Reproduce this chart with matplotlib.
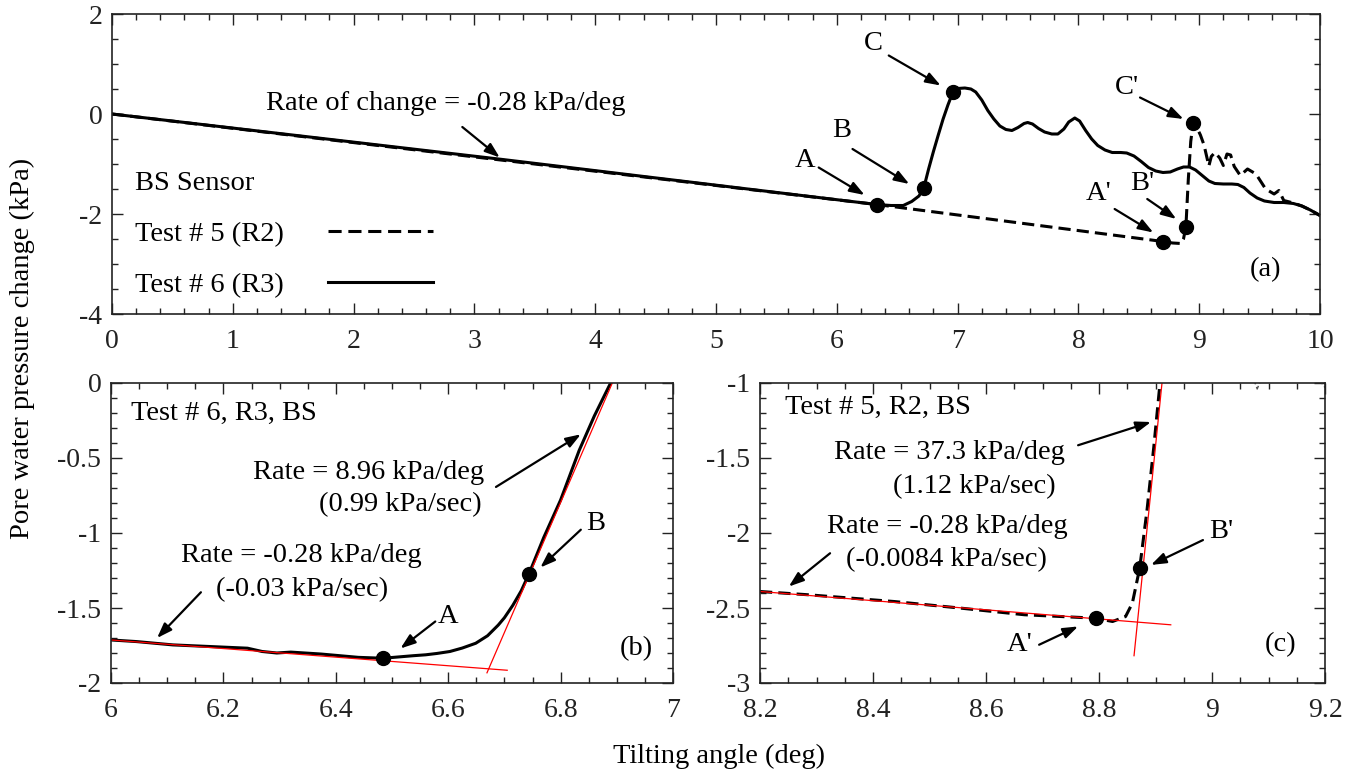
import matplotlib
matplotlib.use("Agg")
import matplotlib.pyplot as plt
from matplotlib.lines import Line2D
from matplotlib.ticker import MultipleLocator, FuncFormatter

plt.rcParams['font.family'] = ['Liberation Serif', 'DejaVu Serif']
plt.rcParams['axes.unicode_minus'] = False

# ---------------- overview data (panel a) ----------------
t6_angle = [0, 3.2, 6.33, 6.45, 6.55, 6.62, 6.68, 6.72, 6.76, 6.80, 6.84, 6.88, 6.92, 6.96,
            7.00, 7.06, 7.11, 7.15, 7.20, 7.25, 7.30, 7.35, 7.40, 7.45, 7.50, 7.55, 7.58,
            7.62, 7.67, 7.72, 7.78, 7.83, 7.88, 7.92, 7.97, 8.01, 8.06, 8.11, 8.16, 8.22,
            8.28, 8.35, 8.40, 8.46, 8.52, 8.58, 8.64, 8.70, 8.76, 8.82, 8.87, 8.92, 8.97,
            9.02, 9.08, 9.13, 9.20, 9.27, 9.32, 9.37, 9.42, 9.48, 9.54, 9.62, 9.70, 9.78,
            9.85, 9.92, 10.0]
t6_pwp = [0, -0.90, -1.81, -1.83, -1.83, -1.75, -1.64, -1.48, -1.10, -0.75, -0.42, -0.10,
          0.18, 0.43, 0.51, 0.52, 0.50, 0.44, 0.28, 0.07, -0.10, -0.24, -0.31, -0.33, -0.27,
          -0.19, -0.17, -0.20, -0.29, -0.36, -0.40, -0.40, -0.30, -0.16, -0.08, -0.14,
          -0.33, -0.50, -0.63, -0.72, -0.77, -0.77, -0.78, -0.84, -0.95, -1.07, -1.14,
          -1.17, -1.16, -1.10, -1.06, -1.06, -1.12, -1.22, -1.34, -1.39, -1.40, -1.40,
          -1.41, -1.47, -1.58, -1.68, -1.74, -1.77, -1.77, -1.79, -1.84, -1.92, -2.03]

t5_angle = [0, 6.33, 8.70, 8.78, 8.85, 8.87, 8.89, 8.91, 8.93, 8.95, 8.98, 9.01, 9.04,
            9.08, 9.10, 9.13, 9.17, 9.20, 9.23, 9.26, 9.29, 9.34, 9.40, 9.47, 9.55, 9.62,
            9.66, 9.70, 9.78, 9.85, 9.92, 10.0]
t5_pwp = [0, -1.81, -2.55, -2.58, -2.59, -2.50, -2.25, -1.30, -0.55, -0.17, -0.27, -0.42,
          -0.62, -1.04, -0.85, -0.77, -0.88, -1.03, -0.80, -0.82, -1.05, -1.23, -1.10,
          -1.20, -1.50, -1.60, -1.53, -1.73, -1.78, -1.84, -1.92, -2.03]

key_labels_a = ['A', 'B', 'C', "A'", "B'", "C'"]
key_angle_a = [6.33, 6.72, 6.96, 8.70, 8.89, 8.95]
key_pwp_a = [-1.81, -1.48, 0.45, -2.55, -2.25, -0.17]

# ---------------- detail data (panel b: test 6) ----------------
t6z_angle = [6.0, 6.046, 6.11, 6.177, 6.243, 6.269, 6.295, 6.32, 6.374, 6.44, 6.484,
             6.538, 6.56, 6.58, 6.603, 6.625, 6.649, 6.67, 6.689, 6.70, 6.715, 6.73,
             6.744, 6.77, 6.80, 6.833, 6.86, 6.889]
t6z_pwp = [-1.713, -1.724, -1.746, -1.757, -1.768, -1.79, -1.80, -1.794, -1.807, -1.829,
           -1.835, -1.818, -1.812, -1.803, -1.79, -1.767, -1.735, -1.685, -1.614, -1.565,
           -1.482, -1.385, -1.27, -1.03, -0.78, -0.45, -0.22, 0.0]
t6_fit1_angle = [6.0, 6.705]
t6_fit1_pwp = [-1.713, -1.915]
t6_fit2_angle = [6.669, 6.892]
t6_fit2_pwp = [-1.932, 0.0]
t6_key_angle = [6.484, 6.744]
t6_key_pwp = [-1.835, -1.27]

# ---------------- detail data (panel c: test 5) ----------------
t5z_angle = [8.2, 8.286, 8.438, 8.553, 8.668, 8.794, 8.824, 8.847, 8.859, 8.872,
             8.885, 8.897, 8.908]
t5z_pwp = [-2.39, -2.412, -2.457, -2.5, -2.545, -2.568, -2.59, -2.557, -2.468, -2.235,
           -1.847, -1.426, -1.0]
t5_fit1_angle = [8.2, 8.927]
t5_fit1_pwp = [-2.39, -2.612]
t5_fit2_angle = [8.862, 8.912]
t5_fit2_pwp = [-2.818, -0.982]
t5_key_angle = [8.794, 8.872]
t5_key_pwp = [-2.568, -2.235]

TICK_FS = 20
TXT_FS = 20.5
LAB_FS = 20.5
LW = 2.2
DASH = (0, (4.0, 2.0))
MS = 10

fig = plt.figure(figsize=(13.56, 7.74), dpi=100)
ax_a = fig.add_axes([112/1356, 1-314/774, 1208/1356, 300/774])
ax_b = fig.add_axes([111/1356, 1-683/774, 562/1356, 300/774])
ax_c = fig.add_axes([760/1356, 1-683/774, 565/1356, 300/774])

fmt = FuncFormatter(lambda v, p: f'{round(v, 6) + 0.0:g}')


def style(ax, xmaj, xmin, ymaj, ymin):
    ax.xaxis.set_major_locator(MultipleLocator(xmaj))
    ax.xaxis.set_minor_locator(MultipleLocator(xmin))
    ax.yaxis.set_major_locator(MultipleLocator(ymaj))
    ax.yaxis.set_minor_locator(MultipleLocator(ymin))
    ax.xaxis.set_major_formatter(fmt)
    ax.yaxis.set_major_formatter(fmt)
    ax.tick_params(which='both', direction='in', top=True, right=True, width=1.0,
                   labelsize=TICK_FS, colors='#222222')
    ax.tick_params(which='major', length=8)
    ax.tick_params(which='minor', length=4.5)
    ax.tick_params(axis='x', pad=11)
    ax.tick_params(axis='y', pad=7)
    for s in ax.spines.values():
        s.set_linewidth(1.2)
        s.set_color('#222222')


def arrow(ax, tail, head):
    ax.annotate('', xy=head, xytext=tail,
                arrowprops=dict(arrowstyle='-|>,head_length=0.9,head_width=0.32',
                                color='k', lw=1.6, shrinkA=0, shrinkB=0))


# ---------------- panel (a) ----------------
ax = ax_a
ax.plot(t5_angle, t5_pwp, color='k', lw=LW, linestyle=DASH)
ax.plot(t6_angle, t6_pwp, color='k', lw=LW)
ax.plot(key_angle_a, key_pwp_a, 'o', color='k', ms=MS)
ax.set_xlim(0, 10)
ax.set_ylim(-4, 2)
style(ax, 1, 0.2, 2, 0.5)

ax.text(2.765, 0.22, 'Rate of change = -0.28 kPa/deg', fontsize=TXT_FS, ha='center', va='center')
arrow(ax, (2.90, -0.26), (3.21, -0.87))
ax.text(6.30, 1.42, 'C', fontsize=TXT_FS, ha='center', va='center')
arrow(ax, (6.43, 1.17), (6.86, 0.57))
ax.text(6.04, -0.33, 'B', fontsize=TXT_FS, ha='center', va='center')
arrow(ax, (6.13, -0.70), (6.60, -1.40))
ax.text(5.74, -0.93, 'A', fontsize=TXT_FS, ha='center', va='center')
arrow(ax, (5.85, -1.07), (6.23, -1.62))
ax.text(8.40, 0.53, "C'", fontsize=TXT_FS, ha='center', va='center')
arrow(ax, (8.51, 0.33), (8.87, -0.10))
ax.text(8.53, -1.40, "B'", fontsize=TXT_FS, ha='center', va='center')
arrow(ax, (8.57, -1.70), (8.81, -2.10))
ax.text(8.17, -1.60, "A'", fontsize=TXT_FS, ha='center', va='center')
arrow(ax, (8.30, -1.90), (8.62, -2.37))
ax.text(9.55, -3.12, '(a)', fontsize=TXT_FS, ha='center', va='center')

h5 = Line2D([], [], color='k', lw=LW, linestyle=(0, (4.3, 2.2)))
h6 = Line2D([], [], color='k', lw=LW)
leg = ax.legend([h5, h6], ['Test # 5 (R2)', 'Test # 6 (R3)'], title='BS Sensor',
                loc='upper left', bbox_to_anchor=(0.019, 0.475), frameon=False,
                fontsize=TXT_FS, title_fontsize=TXT_FS, markerfirst=False,
                handlelength=3.7, handletextpad=1.55, labelspacing=0.87,
                borderpad=0, borderaxespad=0, alignment='left')

# ---------------- panel (b) ----------------
ax = ax_b
ax.plot(t6z_angle, t6z_pwp, color='k', lw=LW)
ax.plot(t6_fit1_angle, t6_fit1_pwp, color='red', lw=0.9)
ax.plot(t6_fit2_angle, t6_fit2_pwp, color='red', lw=0.9)
ax.plot(t6_key_angle, t6_key_pwp, 'o', color='k', ms=MS)
ax.set_xlim(6, 7)
ax.set_ylim(-2, 0)
style(ax, 0.2, 0.05, 0.5, 0.1)
ax.text(6.036, -0.20, 'Test # 6, R3, BS', fontsize=TXT_FS, ha='left', va='center')
ax.text(6.459, -0.594, 'Rate = 8.96 kPa/deg', fontsize=TXT_FS, ha='center', va='center')
ax.text(6.515, -0.81, '(0.99 kPa/sec)', fontsize=TXT_FS, ha='center', va='center')
arrow(ax, (6.685, -0.693), (6.836, -0.342))
ax.text(6.862, -0.934, 'B', fontsize=TXT_FS, ha='center', va='center')
arrow(ax, (6.836, -0.978), (6.764, -1.23))
ax.text(6.338, -1.153, 'Rate = -0.28 kPa/deg', fontsize=TXT_FS, ha='center', va='center')
ax.text(6.34, -1.38, '(-0.03 kPa/sec)', fontsize=TXT_FS, ha='center', va='center')
arrow(ax, (6.16, -1.395), (6.082, -1.70))
ax.text(6.60, -1.559, 'A', fontsize=TXT_FS, ha='center', va='center')
arrow(ax, (6.577, -1.59), (6.515, -1.77))
ax.text(6.934, -1.768, '(b)', fontsize=TXT_FS, ha='center', va='center')

# ---------------- panel (c) ----------------
ax = ax_c
ic = t5_angle.index(8.95)
ax.plot(t5_angle[ic:], t5_pwp[ic:], color='#555555', lw=1.0, linestyle=DASH)
ax.plot(t5z_angle, t5z_pwp, color='k', lw=LW, linestyle=DASH)
ax.plot(t5_fit1_angle, t5_fit1_pwp, color='red', lw=0.9)
ax.plot(t5_fit2_angle, t5_fit2_pwp, color='red', lw=0.9)
ax.plot(t5_key_angle, t5_key_pwp, 'o', color='k', ms=MS)
ax.set_xlim(8.2, 9.2)
ax.set_ylim(-3, -1)
style(ax, 0.2, 0.05, 0.5, 0.1)
ax.text(8.244, -1.16, 'Test # 5, R2, BS', fontsize=TXT_FS, ha='left', va='center')
ax.text(8.535, -1.466, 'Rate = 37.3 kPa/deg', fontsize=TXT_FS, ha='center', va='center')
ax.text(8.58, -1.69, '(1.12 kPa/sec)', fontsize=TXT_FS, ha='center', va='center')
arrow(ax, (8.763, -1.415), (8.892, -1.26))
ax.text(8.531, -1.958, 'Rate = -0.28 kPa/deg', fontsize=TXT_FS, ha='center', va='center')
ax.text(8.53, -2.18, '(-0.0084 kPa/sec)', fontsize=TXT_FS, ha='center', va='center')
arrow(ax, (8.324, -2.135), (8.251, -2.357))
ax.text(9.017, -1.99, "B'", fontsize=TXT_FS, ha='center', va='center')
arrow(ax, (8.984, -2.047), (8.892, -2.213))
ax.text(8.66, -2.745, "A'", fontsize=TXT_FS, ha='center', va='center')
arrow(ax, (8.694, -2.745), (8.763, -2.623))
ax.text(9.122, -2.745, '(c)', fontsize=TXT_FS, ha='center', va='center')

fig.text(22/1356, 1-348/774, 'Pore water pressure change (kPa)', rotation=90,
         fontsize=LAB_FS, ha='center', va='center')
fig.text(719/1356, 1-756/774, 'Tilting angle (deg)', fontsize=LAB_FS, ha='center', va='center')

fig.savefig('out.png', dpi=100)
